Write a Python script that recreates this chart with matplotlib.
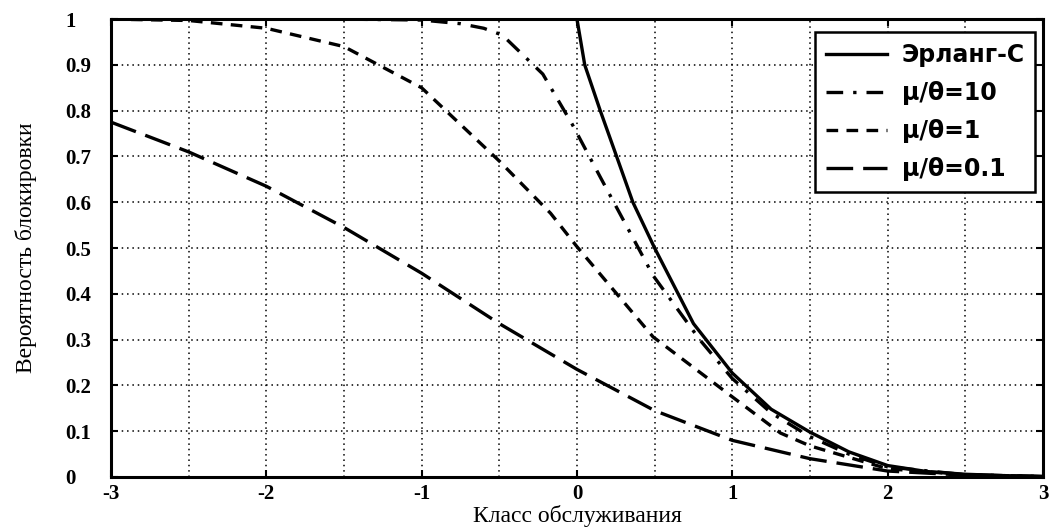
import numpy as np
import matplotlib.pyplot as plt
from matplotlib.ticker import MultipleLocator

plt.rcParams['axes.unicode_minus'] = False

# Erlang-C
erl_x = [0, 0.05, 0.15, 0.25, 0.36, 0.5, 0.75, 1.0, 1.25, 1.5, 1.75, 2.0, 2.25, 2.5, 2.75, 3.0]
erl_y = [1.0, 0.9, 0.8, 0.705, 0.6, 0.5, 0.335, 0.227, 0.148, 0.098, 0.055, 0.025, 0.012, 0.006, 0.003, 0.001]

# mu/theta = 10
m10_x = [-3, -1.5, -1.0, -0.75, -0.6, -0.48, -0.22, -0.03, 0.15, 0.34, 0.49, 0.79, 1.0, 1.25, 1.5, 1.75, 2.0, 2.5, 3.0]
m10_y = [1.0, 1.0, 0.998, 0.99, 0.98, 0.965, 0.88, 0.77, 0.655, 0.535, 0.44, 0.30, 0.215, 0.14, 0.088, 0.05, 0.022, 0.005, 0.001]

# mu/theta = 1
m1_x = [-3, -2.5, -2, -1.5, -1, -0.5, -0.17, 0, 0.49, 1.0, 1.31, 1.5, 2.0, 2.5, 3.0]
m1_y = [1.0, 0.997, 0.98, 0.94, 0.85, 0.69, 0.576, 0.503, 0.306, 0.175, 0.096, 0.068, 0.018, 0.005, 0.001]

# mu/theta = 0.1
m01_x = [-3, -2.5, -2, -1.5, -1, -0.5, 0, 0.5, 1.0, 1.5, 2.0, 2.5, 3.0]
m01_y = [0.775, 0.71, 0.635, 0.545, 0.445, 0.335, 0.235, 0.145, 0.08, 0.04, 0.013, 0.004, 0.001]

labels = ['Эрланг-С', 'μ/θ=10', 'μ/θ=1', 'μ/θ=0.1']
y_ticks = [0, 0.1, 0.2, 0.3, 0.4, 0.5, 0.6, 0.7, 0.8, 0.9, 1]
y_ticklabels = ['0', '0.1', '0.2', '0.3', '0.4', '0.5', '0.6', '0.7', '0.8', '0.9', '1']

fig = plt.figure(figsize=(10.61, 5.31), dpi=100)
ax = fig.add_axes([0.1046, 0.1017, 0.8784, 0.8623])

lw = 2.4
ax.plot(erl_x, erl_y, color='black', lw=lw, linestyle='-', label=labels[0])
ax.plot(m10_x, m10_y, color='black', lw=lw, linestyle=(0, (5, 3, 1, 3)), label=labels[1])
ax.plot(m1_x, m1_y, color='black', lw=lw, linestyle=(0, (3.5, 2.5)), label=labels[2])
ax.plot(m01_x, m01_y, color='black', lw=lw, linestyle=(0, (8, 3)), label=labels[3])

ax.set_xlim(-3, 3)
ax.set_ylim(0, 1)
ax.xaxis.set_major_locator(MultipleLocator(1))
ax.xaxis.set_minor_locator(MultipleLocator(0.5))
ax.set_yticks(y_ticks)
ax.set_yticklabels(y_ticklabels)

ax.grid(True, which='both', color='black', linestyle=(0, (1, 2.5)), lw=1.1)
ax.tick_params(which='both', direction='in', length=5, width=1.5, top=True, right=True)
ax.tick_params(which='minor', length=0)
ax.tick_params(axis='y', pad=33)
ax.tick_params(axis='x', pad=5)

for lab in ax.get_xticklabels() + ax.get_yticklabels():
    lab.set_fontfamily('Liberation Serif')
    lab.set_fontweight('bold')
    lab.set_fontsize(15)
for lab in ax.get_yticklabels():
    lab.set_horizontalalignment('left')

for sp in ax.spines.values():
    sp.set_linewidth(2.2)

ax.set_xlabel('Класс обслуживания', fontfamily='Liberation Serif', fontsize=17)
ax.xaxis.set_label_coords(0.5, -0.062, transform=ax.transAxes)
ax.xaxis.label.set_verticalalignment('top')
ax.set_ylabel('Вероятность блокировки', fontfamily='Liberation Serif', fontsize=17)
ax.yaxis.set_label_coords(-0.079, 0.5)

leg = ax.legend(loc='upper right', bbox_to_anchor=(0.9995, 0.987),
                prop={'family': 'DejaVu Sans', 'weight': 'bold', 'size': 17},
                handlelength=2.6, handletextpad=0.6, labelspacing=0.6, fancybox=False,
                framealpha=1, edgecolor='black', borderpad=0.45, borderaxespad=0.3)
leg.get_frame().set_linewidth(1.8)

fig.savefig('out.png', dpi=100)
